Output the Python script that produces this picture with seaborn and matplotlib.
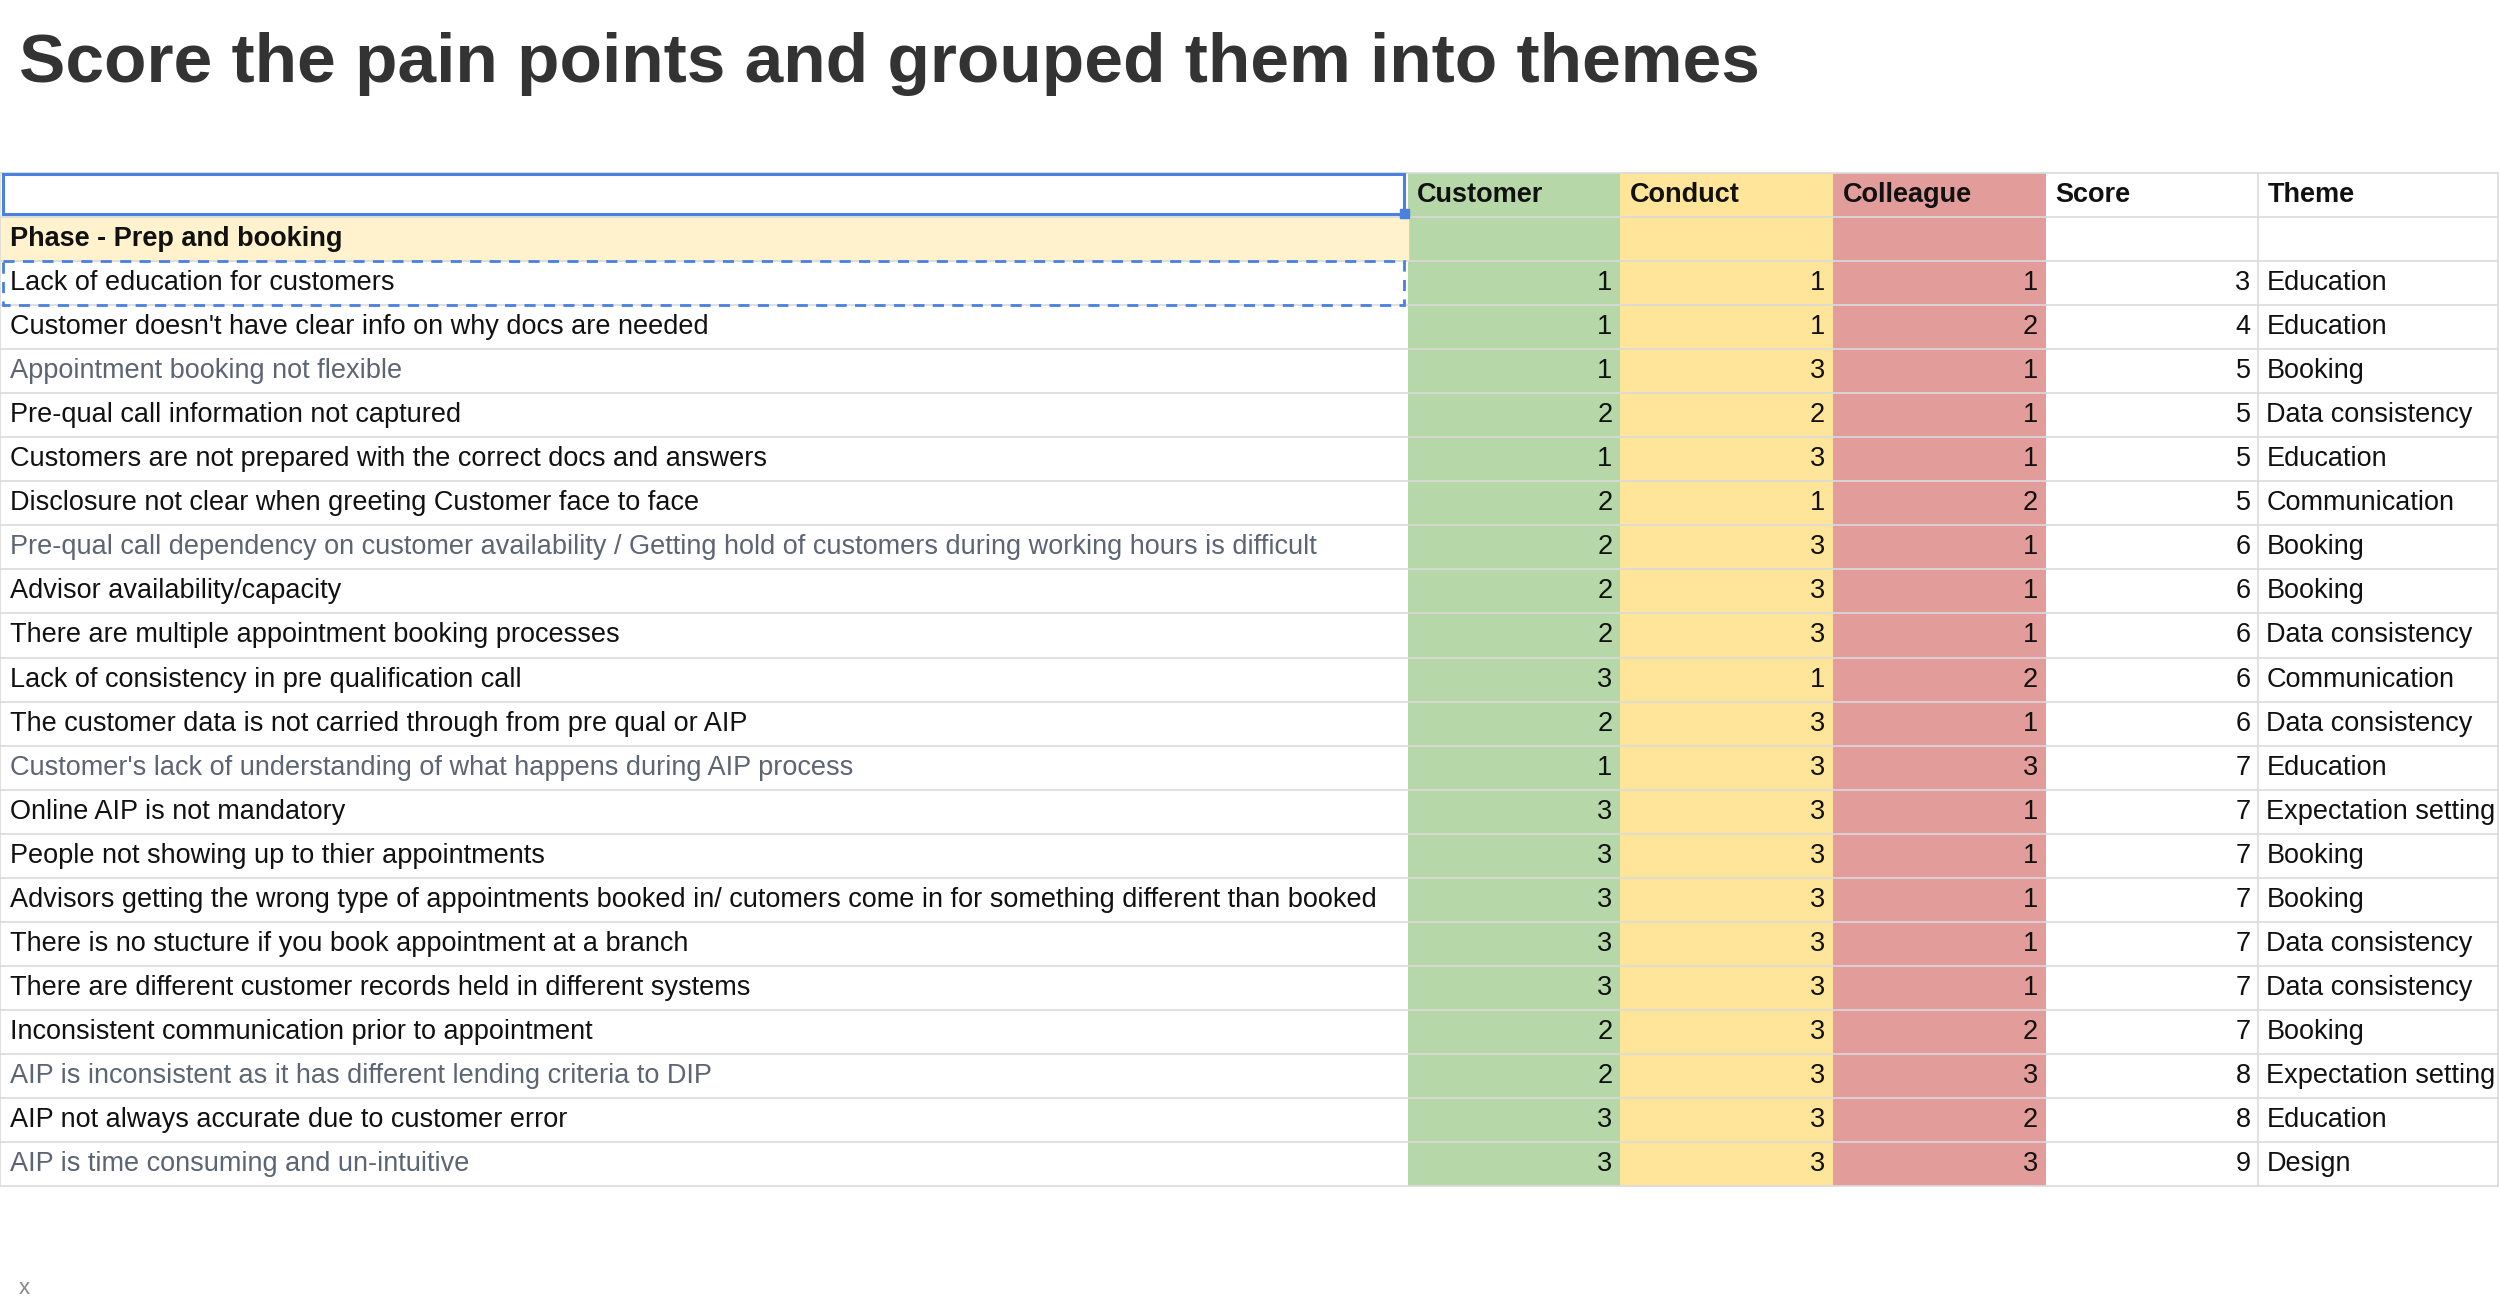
import numpy as np
import pandas as pd
import matplotlib
matplotlib.use("Agg")
import matplotlib.pyplot as plt
from matplotlib.colors import ListedColormap
from matplotlib.patches import Rectangle
import seaborn as sns

title = "Score the pain points and grouped them into themes"
headers = ["Customer", "Conduct", "Colleague", "Score", "Theme"]
phase = "Phase - Prep and booking"
pain_points = [
    "Lack of education for customers",
    "Customer doesn't have clear info on why docs are needed",
    "Appointment booking not flexible",
    "Pre-qual call information not captured",
    "Customers are not prepared with the correct docs and answers",
    "Disclosure not clear when greeting Customer face to face",
    "Pre-qual call dependency on customer availability / Getting hold of customers during working hours is difficult",
    "Advisor availability/capacity",
    "There are multiple appointment booking processes",
    "Lack of consistency in pre qualification call",
    "The customer data is not carried through from pre qual or AIP",
    "Customer's lack of understanding of what happens during AIP process",
    "Online AIP is not mandatory",
    "People not showing up to thier appointments",
    "Advisors getting the wrong type of appointments booked in/ cutomers come in for something different than booked",
    "There is no stucture if you book appointment at a branch",
    "There are different customer records held in different systems",
    "Inconsistent communication prior to appointment",
    "AIP is inconsistent as it has different lending criteria to DIP",
    "AIP not always accurate due to customer error",
    "AIP is time consuming and un-intuitive",
]
muted = [2, 6, 11, 18, 20]
customer = [1, 1, 1, 2, 1, 2, 2, 2, 2, 3, 2, 1, 3, 3, 3, 3, 3, 2, 2, 3, 3]
conduct = [1, 1, 3, 2, 3, 1, 3, 3, 3, 1, 3, 3, 3, 3, 3, 3, 3, 3, 3, 3, 3]
colleague = [1, 2, 1, 1, 1, 2, 1, 1, 1, 2, 1, 3, 1, 1, 1, 1, 1, 2, 3, 2, 3]
score = [3, 4, 5, 5, 5, 5, 6, 6, 6, 6, 6, 7, 7, 7, 7, 7, 7, 7, 8, 8, 9]
theme = ["Education", "Education", "Booking", "Data consistency", "Education",
         "Communication", "Booking", "Booking", "Data consistency", "Communication",
         "Data consistency", "Education", "Expectation setting", "Booking", "Booking",
         "Data consistency", "Data consistency", "Booking", "Expectation setting",
         "Education", "Design"]

FONT = "Liberation Sans"
plt.rcParams["font.family"] = FONT
W, H = 1563, 820
fig = plt.figure(figsize=(25, 13.11), dpi=100)
ax = fig.add_axes([0, 0, 1, 1])
ax.set_xlim(0, W); ax.set_ylim(H, 0); ax.axis("off")

top, rh = 108.0, 27.57
nrows = len(pain_points) + 2
bottom = top + nrows * rh
xs = [0, 880, 1013, 1146, 1279, 1412, 1562]

t = ax.text(12, 40, title, fontsize=50, fontweight="bold", color="#333333",
            va="center", ha="left")
t.set_transform(t.get_transform())

ax.add_patch(Rectangle((0, top + rh), 880, rh, color="#fff2cc", zorder=0))
for i in range(nrows + 1):
    ax.plot([0, W - 1], [top + i * rh] * 2, color="#dadada", lw=1.2, zorder=1)
for x in [0, 1412, 1562]:
    ax.plot([x, x], [top, bottom], color="#dadada", lw=1.2, zorder=1)

tfs = 19.5
for j, h in enumerate(headers):
    ax.text(xs[j + 1] + 6, top + rh / 2, h, fontsize=tfs, fontweight="bold",
            va="center", color="#111111", zorder=5)
ax.text(6, top + 1.5 * rh, phase, fontsize=tfs, fontweight="bold", va="center",
        color="#111111")
for i, p in enumerate(pain_points):
    y = top + (i + 2.5) * rh
    ax.text(6, y, p, fontsize=tfs, va="center",
            color="#5b6573" if i in muted else "#111111")
    for j, v in enumerate([customer[i], conduct[i], colleague[i], score[i]]):
        ax.text(xs[j + 2] - 5, y, str(v), fontsize=tfs, va="center", ha="right",
                color="#111111", zorder=5)
    ax.text(1417, y, theme[i], fontsize=tfs, va="center", color="#111111")

ax.add_patch(Rectangle((2, top + 1), 876, rh - 3, fill=False, ec="#4a80e0", lw=2.2, zorder=6))
ax.add_patch(Rectangle((875, top + rh - 5), 6, 6, color="#4a80e0", zorder=7))
ax.add_patch(Rectangle((2, top + 2 * rh), 876, rh, fill=False, ec="#4a80e0", lw=2,
                       ls=(0, (4, 3)), zorder=6))
ax.text(12, 806, "x", fontsize=16, color="#888888", va="center")

mat = pd.DataFrame(np.tile([0, 1, 2], (nrows, 1)), columns=headers[:3])
hax = fig.add_axes([880 / W, 1 - bottom / H, (1279 - 880) / W, nrows * rh / H])
sns.heatmap(mat, ax=hax, cmap=ListedColormap(["#b6d7a8", "#ffe599", "#e29c9a"]),
            cbar=False, annot=False, linewidths=0, xticklabels=False, yticklabels=False)
hax.axis("off")
hax.set_zorder(-1); ax.set_zorder(1); ax.patch.set_visible(False)

fig.savefig("out.png", dpi=100, facecolor="white")
